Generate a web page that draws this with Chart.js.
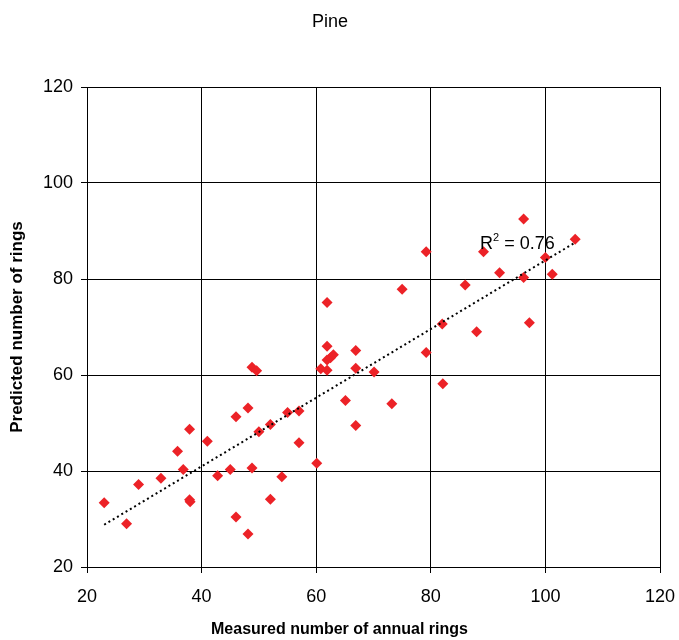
<!DOCTYPE html>
<html>
<head>
<meta charset="utf-8">
<script src="https://cdn.jsdelivr.net/npm/chart.js@4"></script>
<style>
  html, body { margin: 0; padding: 0; background: #fff; }
  #wrap { width: 679px; height: 640px; }
</style>
</head>
<body>
<div id="wrap"><canvas id="pineChart"></canvas></div>
<script>
// measured rings (x) vs predicted rings (y)
const measured = [
  23, 26.9, 29, 32.9, 35.8, 36.8, 37.9, 37.9, 38, 41,
  42.8, 45, 46, 46, 48.1, 48.1, 48.8, 48.8, 49.6, 50,
  52, 52, 54, 55, 57, 57, 60.1, 60.8, 61.9, 61.9,
  61.9, 61.9, 62.5, 63, 65.1, 66.9, 66.9, 66.9, 70.1, 73.2,
  75, 79.2, 79.2, 82, 82.1, 86, 88, 89.2, 92, 96.2,
  96.2, 97.2, 100, 101.2, 105.2
];
const predicted = [
  33.4, 29, 37.2, 38.5, 44.1, 40.3, 48.7, 34, 33.6, 46.2,
  39, 40.3, 51.3, 30.4, 53.1, 26.9, 40.6, 61.6, 60.9, 48.2,
  49.7, 34.1, 38.8, 52.2, 52.5, 45.9, 41.6, 61.3, 75.1, 66,
  61, 63.1, 63.6, 64.2, 54.7, 65.1, 61.4, 49.5, 60.6, 54,
  77.85, 85.7, 64.7, 70.6, 58.2, 78.75, 69, 85.7, 81.3, 92.5,
  80.3, 70.9, 84.5, 81, 88.3
];

// linear trendline ends (as drawn in the original)
const trendX = [23, 105.2];
const trendY = [28.8, 87.6];

const axisTicks = [20, 40, 60, 80, 100, 120];
const r2Text = '0.76';

const FONT = "'Liberation Sans', Arial, sans-serif";
Chart.defaults.font.family = FONT;
Chart.defaults.color = '#000';

const points = measured.map((v, i) => ({ x: v, y: predicted[i] }));
const trend = trendX.map((v, i) => ({ x: v, y: trendY[i] }));

// x axis title (centred on canvas) + R² label
const extraText = {
  id: 'extraText',
  afterDraw(chart) {
    const { ctx, scales: { x, y } } = chart;
    ctx.save();
    ctx.fillStyle = '#000';
    ctx.textBaseline = 'middle';
    ctx.textAlign = 'center';
    ctx.font = 'bold 16px ' + FONT;
    ctx.fillText('Measured number of annual rings', chart.width / 2, 630);

    // R² = 0.76
    ctx.textBaseline = 'alphabetic';
    ctx.textAlign = 'left';
    let px = x.getPixelForValue(88.6);
    const py = y.getPixelForValue(86.25);
    ctx.font = '18px ' + FONT;
    ctx.fillText('R', px, py);
    px += ctx.measureText('R').width;
    ctx.font = '11px ' + FONT;
    ctx.fillText('2', px, py - 8);
    px += ctx.measureText('2').width;
    ctx.font = '18px ' + FONT;
    ctx.fillText(' = ' + r2Text, px, py);
    ctx.restore();
  }
};

const ctx = document.getElementById('pineChart').getContext('2d');

const chart = new Chart(ctx, {
  type: 'scatter',
  data: {
    datasets: [{
      label: 'Pine',
      data: points,
      pointStyle: 'rectRot',
      pointRadius: 5.5,
      pointBackgroundColor: '#ec2227',
      pointBorderWidth: 0,
      order: 2
    },
    {
      label: 'Trend',
      data: trend,
      showLine: true,
      borderColor: '#000',
      borderWidth: 2,
      borderDash: [2, 3],
      pointRadius: 0,
      fill: false,
      order: 1
    }]
  },
  options: {
    responsive: true,
    maintainAspectRatio: false,
    animation: false,
    layout: { padding: { left: 0, right: 19, top: 0, bottom: 0 } },
    plugins: {
      legend: { display: false },
      tooltip: { enabled: false },
      title: {
        display: true,
        text: 'Pine',
        color: '#000',
        font: { size: 18, weight: 'normal' },
        padding: { top: 11, bottom: 54.4 }
      }
    },
    scales: {
      x: {
        type: 'linear',
        min: 20,
        max: 120,
        afterBuildTicks: (s) => { s.ticks = axisTicks.map(v => ({ value: v })); },
        afterFit: (s) => { s.height = 73; s.paddingLeft = 0; s.paddingRight = 0; },
        grid: { color: '#000', lineWidth: 1, tickLength: 6 },
        border: { color: '#000', width: 1 },
        ticks: { font: { size: 18 }, padding: 13, maxRotation: 0 }
      },
      y: {
        type: 'linear',
        min: 20,
        max: 120,
        afterBuildTicks: (s) => { s.ticks = axisTicks.map(v => ({ value: v })); },
        afterFit: (s) => { s.width = 87; s.paddingTop = 0; s.paddingBottom = 0; },
        grid: { color: '#000', lineWidth: 1, tickLength: 6 },
        border: { color: '#000', width: 1 },
        ticks: { font: { size: 18 }, padding: 8 },
        title: {
          display: true,
          text: 'Predicted number of rings',
          font: { size: 17, weight: 'bold' },
          padding: { top: 7, bottom: 0 }
        }
      }
    }
  },
  plugins: [extraText]
});
</script>
</body>
</html>
